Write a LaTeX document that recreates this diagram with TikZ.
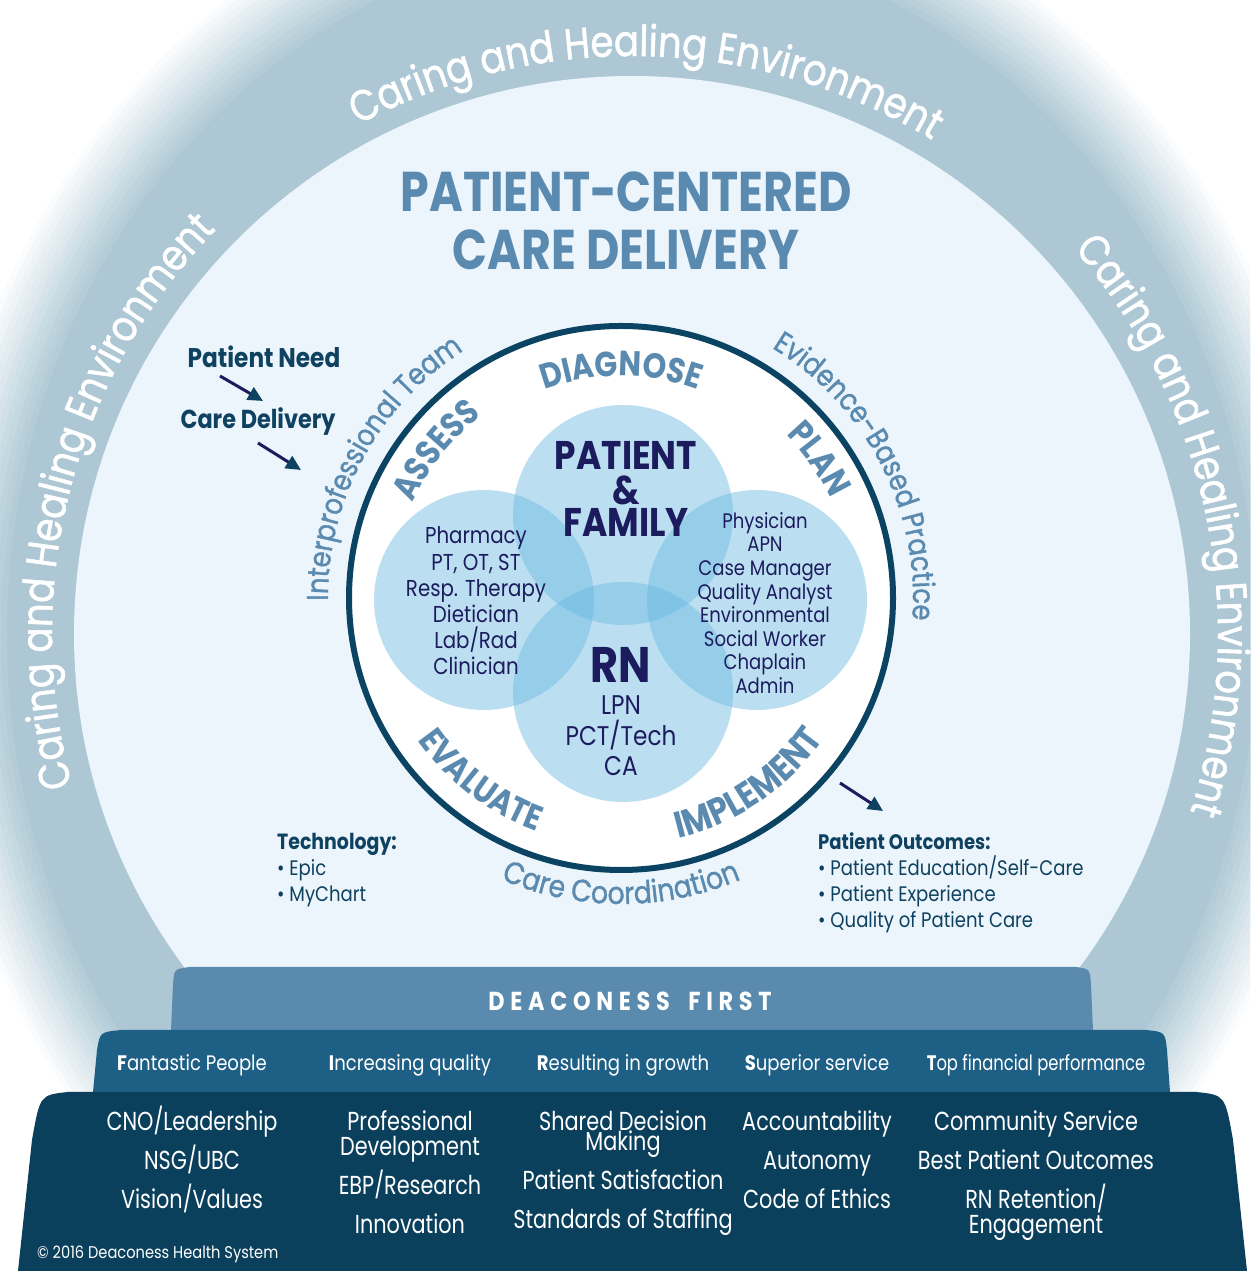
\documentclass[tikz,border=0pt]{standalone}
\usepackage{fontspec}
\setmainfont{Poppins}[FakeStretch=0.86]
\newfontfamily\headfont{Poppins}[FakeStretch=0.82]
\newfontfamily\midfont{Poppins}[FakeStretch=0.86, FakeBold=1.2]
\newfontfamily\narrowfont{Poppins}[FakeStretch=0.78]
\newfontfamily\basefont{Poppins}[FakeStretch=0.8]
\usetikzlibrary{arrows.meta,decorations.text}

\definecolor{bandC}{HTML}{ADC8D4}
\definecolor{lightC}{HTML}{ECF5FB}
\definecolor{ringC}{HTML}{0B4462}
\definecolor{steelC}{HTML}{5A8AAF}
\definecolor{inkC}{HTML}{1C1B5E}
\definecolor{navyC}{HTML}{0E4260}
\definecolor{firstC}{HTML}{5A8BAE}
\definecolor{rowC}{HTML}{1E5F86}
\definecolor{baseC}{HTML}{0B405D}
\definecolor{vennC}{HTML}{69B9E1}

\newcommand\fsz[2]{\fontsize{#1}{#2}\selectfont}
\newcommand\ringfont{\color{white}\midfont\fsz{43}{43}}
\newcommand\procfont{\color{steelC}\bfseries\fsz{35}{35}}
\newcommand\teamfont{\color{steelC}\midfont\fsz{30}{30}}

\tikzset{
  title/.style={font=\headfont\bfseries\fsz{56}{56}, text=steelC, inner sep=0pt},
  venn/.style={fill=vennC, fill opacity=0.45},
  big/.style={font=\bfseries\fsz{40}{40}, text=inkC, inner sep=0pt},
  roles/.style={align=center, text=inkC, inner sep=0pt},
  lbl/.style={font=\bfseries\fsz{26}{26}, text=navyC, inner sep=0pt},
  info/.style={align=left, anchor=west, text=navyC, inner sep=0pt, font=\fsz{21}{26}},
  arr/.style={line width=3pt, draw=inkC, -{Triangle[length=15pt,width=14pt,color=navyC]}},
  rowTxt/.style={font=\fsz{21}{21}, text=white, inner sep=0pt, text height=14.5pt, text depth=0pt},
  botTxt/.style={font=\basefont\fsz{26}{26}, text=white, inner sep=0pt, text height=18pt, text depth=0pt},
  onarc/.style={decorate, decoration={text along path, text align=center, text={#1}}}
}

\begin{document}
\begin{tikzpicture}[x=1pt,y=1pt]
\useasboundingbox (0,0) rectangle (1250,1271);
\fill[white] (0,0) rectangle (1250,1271);

\coordinate (H) at (632,637);
\coordinate (O) at (621,673);

% halo and inner field
\begin{scope}
\clip (0,0) rectangle (1250,1271);
\foreach \k in {0,...,14} {
  \pgfmathsetmacro\rx{720*(0.98-0.008*\k)}
  \pgfmathsetmacro\ry{800*(0.98-0.008*\k)}
  \pgfmathsetmacro\m{\k*100/14}
  \fill[bandC!\m!white] (H) ellipse [x radius=\rx, y radius=\ry];
}
\end{scope}
\fill[lightC] (H) circle (558);

\path[onarc={|\ringfont|Caring and Healing Environment}] ([shift={(128.5:578)}]H) arc[start angle=128.5, end angle=48.5, radius=578];
\path[onarc={|\ringfont|Caring and Healing Environment}] ([shift={(205.5:580)}]H) arc[start angle=205.5, end angle=125.5, radius=580];
\path[onarc={|\ringfont|Caring and Healing Environment}] ([shift={(51.7:586)}]H) arc[start angle=51.7, end angle=-28.3, radius=586];

\node[title] (t1) at (626,1079) {PATIENT-CENTERED};
\node[title] (t2) at (626,1021) {CARE DELIVERY};

% process ring
\filldraw[fill=white, draw=ringC, line width=6pt] (O) circle (272);

\fill[venn] (623,756) circle (110);
\fill[venn] (484,671) circle (110);
\fill[venn] (757,671) circle (110);
\fill[venn] (623,579) circle (110);

\path[onarc={|\procfont|DIAGNOSE}] ([shift={(135:222)}]O) arc[start angle=135, end angle=45, radius=222];
\path[onarc={|\procfont|ASSESS}] ([shift={(181.4:229)}]O) arc[start angle=181.4, end angle=101.4, radius=229];
\path[onarc={|\procfont|PLAN}] ([shift={(75:232)}]O) arc[start angle=75, end angle=-5, radius=232];
\path[onarc={|\procfont|EVALUATE}] ([shift={(192.6:248)}]O) arc[start angle=192.6, end angle=272.6, radius=248];
\path[onarc={|\procfont\fsz{37}{37}|IMPLEMENT}] ([shift={(264.3:247)}]O) arc[start angle=264.3, end angle=344.3, radius=247];

\path[onarc={|\teamfont|Interprofessional Team}] ([shift={(196.5:293)}]O) arc[start angle=196.5, end angle=106.5, radius=293];
\path[onarc={|\teamfont|Evidence-Based Practice}] ([shift={(72.3:292)}]O) arc[start angle=72.3, end angle=-17.7, radius=292];
\path[onarc={|\color{steelC}\midfont\fsz{31}{31}|Care Coordination}] ([shift={(220:306)}]O) arc[start angle=220, end angle=320, radius=306];

\node[big] (pat) at (626,816) {PATIENT};
\node[big] (amp) at (626,781) {\&};
\node[big] (fam) at (626,749) {FAMILY};
\node[big, font=\bfseries\fsz{50}{50}] (rn) at (621,606) {RN};
\node[roles, font=\fsz{27}{30.5}] (nurse) at (621,535) {LPN\\PCT/Tech\\CA};
\node[roles, font=\fsz{23}{26.2}] (allied) at (476,670) {Pharmacy\\PT, OT, ST\\Resp. Therapy\\Dietician\\Lab/Rad\\Clinician};
\node[roles, font=\fsz{21}{23.6}] (team) at (765,668) {Physician\\APN\\Case Manager\\Quality Analyst\\Environmental\\Social Worker\\Chaplain\\Admin};

% side notes
\node[lbl, font=\bfseries\fsz{27}{27}] (need) at (264,914) {Patient Need};
\node[lbl] (deliv) at (258,849) {Care Delivery};
\coordinate (needA) at (220,895);
\coordinate (needB) at (263,870);
\coordinate (delA) at (258,828);
\coordinate (delB) at (301,801);
\coordinate (impA) at (840,488);
\coordinate (impB) at (883,460);
\draw[arr] (needA) -- (needB);
\draw[arr] (delA) -- (delB);
\draw[arr] (impA) -- (impB);

\node[info] (tech) at (277,401) {\textbf{\fsz{22}{26}Technology:}\\\textbullet\ Epic\\\textbullet\ MyChart};
\node[info] (outc) at (818,388) {\textbf{Patient Outcomes:}\\\textbullet\ Patient Education/Self-Care\\\textbullet\ Patient Experience\\\textbullet\ Quality of Patient Care};

% base
\fill[firstC] (171,241) -- (173,286) .. controls (174,302) .. (190,304) -- (1076,304) .. controls (1090,302) .. (1091,286) -- (1093,241) -- cycle;
\fill[rowC] (93,179) -- (97,221) .. controls (100,239) .. (122,241) -- (1146,241) .. controls (1165,239) .. (1167,221) -- (1170,179) -- cycle;
\fill[baseC] (18,0) -- (32,131) .. controls (40,176) .. (68,179) -- (1196,179) .. controls (1225,176) .. (1233,131) -- (1247,0) -- cycle;

\node[font=\bfseries\fsz{26}{26}\addfontfeature{LetterSpace=22}, text=white, inner sep=0pt] (first) at (630,270) {DEACONESS\hspace{8pt} FIRST};

\node[rowTxt] (r1) at (192,208) {\textbf{F}antastic People};
\node[rowTxt] (r2) at (410,208) {\textbf{I}ncreasing quality};
\node[rowTxt] (r3) at (623,208) {\textbf{R}esulting in growth};
\node[rowTxt] (r4) at (817,208) {\textbf{S}uperior service};
\node[rowTxt, font=\narrowfont\fsz{21}{21}] (r5) at (1036,208) {\textbf{T}op financial performance};

\node[botTxt] (a1) at (192,149) {CNO/Leadership};
\node[botTxt] (a2) at (192,110) {NSG/UBC};
\node[botTxt] (a3) at (192,71) {Vision/Values};
\node[botTxt] (b1) at (410,149) {Professional};
\node[botTxt] (b2) at (410,124) {Development};
\node[botTxt] (b3) at (410,85) {EBP/Research};
\node[botTxt] (b4) at (410,46) {Innovation};
\node[botTxt] (c1) at (623,149) {Shared Decision};
\node[botTxt] (c2) at (623,129) {Making};
\node[botTxt] (c3) at (623,90) {Patient Satisfaction};
\node[botTxt] (c4) at (623,51) {Standards of Staffing};
\node[botTxt] (d1) at (817,149) {Accountability};
\node[botTxt] (d2) at (817,110) {Autonomy};
\node[botTxt] (d3) at (817,71) {Code of Ethics};
\node[botTxt] (e1) at (1036,149) {Community Service};
\node[botTxt] (e2) at (1036,110) {Best Patient Outcomes};
\node[botTxt] (e3) at (1036,71) {RN Retention/};
\node[botTxt] (e4) at (1036,46) {Engagement};

\node[font=\fsz{17}{17}, text=white, anchor=west, inner sep=0pt] (copy) at (37,17) {\textcopyright\ 2016 Deaconess Health System};
\end{tikzpicture}
\end{document}
